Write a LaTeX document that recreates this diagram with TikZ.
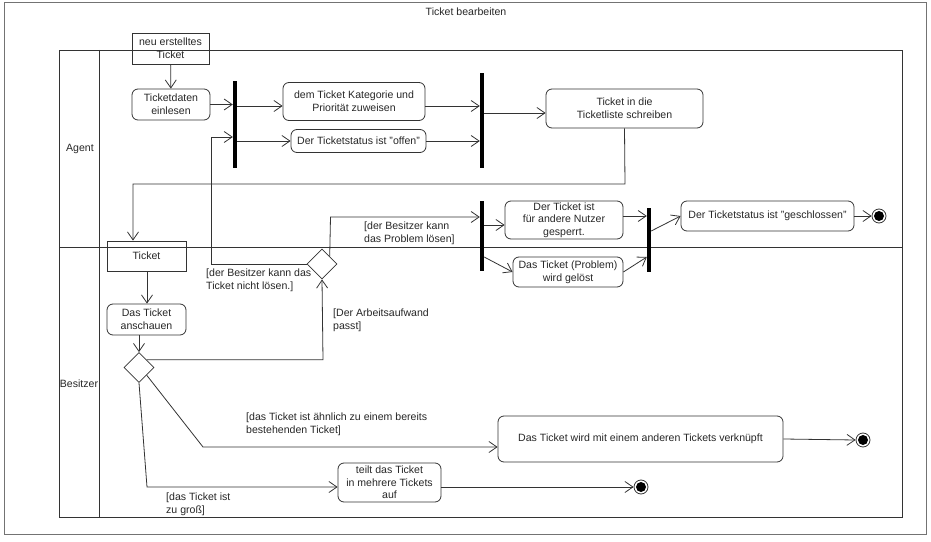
\documentclass[tikz,border=0pt]{standalone}
\usepackage{fontspec}
\setmainfont{Liberation Sans}
\usetikzlibrary{arrows.meta,shapes.geometric,calc}
\definecolor{ln}{gray}{0.2}
\definecolor{fr}{gray}{0.45}
\begin{document}
\begin{tikzpicture}[x=1bp,y=-1bp,
  every node/.style={font=\fontsize{10.6}{12.6}\selectfont, text=black!85, inner sep=1bp},
  act/.style={draw=ln, line width=0.8bp, rounded corners=6bp, align=center, minimum width=#1},
  obj/.style={draw=ln, line width=0.8bp, align=center, minimum width=#1},
  bar/.style={fill=black, draw=none, minimum width=4bp, inner sep=0, minimum height=#1},
  dec/.style={draw=ln, line width=0.8bp, diamond, minimum width=30bp, minimum height=30bp, inner sep=0, aspect=1},
  fin/.style={circle, draw=ln, line width=0.8bp, minimum size=14bp, inner sep=0, path picture={\fill[black] (path picture bounding box.center) circle (5bp);}},
  flow/.style={draw=ln, line width=0.8bp, -{Straight Barb[length=8bp,width=11bp,line width=0.8bp]}},
  guard/.style={anchor=west, align=left}
]
\useasboundingbox (0,0) rectangle (931,542);
% frames
\draw[fr, line width=0.9bp] (4,2) rectangle (926,534);
\node (title) at (466,12) {Ticket bearbeiten};
\draw[ln, line width=0.8bp] (59,50) rectangle (902,517);
\draw[ln, line width=0.8bp] (99,50) -- (99,517);
\draw[ln, line width=1.6bp] (59,247.5) -- (902,247.5);
\node (agent) at (80,149) {Agent};
\node (besitzer) at (79,384) {Besitzer};

% nodes
\node[obj=77bp, minimum height=31bp] (neu) at (170.5,48.5) {neu erstelltes\\Ticket};
\node[act=78bp, minimum height=31bp] (einlesen) at (171,104.5) {Ticketdaten\\einlesen};
\node[bar=87bp] (bar1) at (235,124.5) {};
\node[act=142bp, minimum height=38bp] (kat) at (354,101.5) {dem Ticket Kategorie und\\Priorität zuweisen};
\node[act=135bp, minimum height=23bp] (offen) at (358.5,141) {Der Ticketstatus ist "offen"};
\node[bar=95bp] (bar2) at (482,120.5) {};
\node[act=157bp, minimum height=39bp] (liste) at (624.5,108.5) {Ticket in die\\Ticketliste schreiben};
\node[obj=79bp, minimum height=30bp] (tobj) at (146.5,256) {Ticket};
\node[act=79bp, minimum height=31bp] (anschauen) at (146.5,319.5) {Das Ticket\\anschauen};
\node[dec] (d1) at (139,367.5) {};
\node[dec] (d2) at (322,264) {};
\node[bar=70bp] (bar3) at (482,236) {};
\node[act=118bp, minimum height=38bp] (gesperrt) at (564,220) {Der Ticket ist\\für andere Nutzer\\gesperrt.};
\node[act=110bp, minimum height=30bp] (geloest) at (568,272) {Das Ticket (Problem)\\wird gelöst};
\node[bar=64bp] (bar4) at (649,240) {};
\node[act=173bp, minimum height=30bp] (geschl) at (767.5,216) {Der Ticketstatus ist "geschlossen"};
\node[fin] (f1) at (879,216) {};
\node[act=285bp, minimum height=46bp] (verkn) at (640.5,439) {Das Ticket wird mit einem anderen Tickets verknüpft};
\node[fin] (f2) at (863,440) {};
\node[act=103bp, minimum height=39bp] (teilt) at (389.5,482.5) {teilt das Ticket\\in mehrere Tickets\\auf};
\node[fin] (f3) at (641,487) {};

% helper coordinates
\coordinate (c1) at (625,184);
\coordinate (c2) at (133,184);
\coordinate (c3) at (211,264);
\coordinate (c4) at (211,137);
\coordinate (c5) at (323,360);
\coordinate (c6) at (330.5,217);
\coordinate (c7) at (203,447);
\coordinate (c8) at (147,487);

% flows
\path[flow] (neu) -- (einlesen);
\path[flow] (einlesen.east) -- (einlesen.east -| bar1.west);
\path[flow] (bar1.east |- 0,106) -- (kat.west |- 0,106);
\path[flow] (bar1.east |- offen.west) -- (offen.west);
\path[flow] (kat.east |- 0,106) -- (bar2.west |- 0,106);
\path[flow] (offen.east) -- (bar2.west |- offen.east);
\path[flow] (bar2.east |- 0,113) -- (liste.west |- 0,113);
\path[flow] (liste.south) -- (c1) -- (c2) -- (c2 |- tobj.north);
\path[flow] (tobj.south -| 147,0) -- (anschauen.north -| 147,0);
\path[flow] (anschauen.south -| d1.north) -- (d1.north);
\path[flow] (d1.north east) -- (d1.north east -| c5) -- (d2.south);
\path[flow] (d2.west) -- (c3) -- (c4) -- (bar1.west |- c4);
\path[flow] (d2.north east) -- (c6) -- (bar3.west |- c6);
\path[flow] (bar3.east |- 0,225) -- (gesperrt.west |- 0,225);
\path[flow] (bar3.east |- 0,257) -- (geloest.west);
\path[flow] (gesperrt.east |- 0,216) -- (bar4.west |- 0,216);
\path[flow] (geloest.east) -- (bar4.west |- 0,257);
\path[flow] (bar4.east |- 0,231) -- (geschl.west);
\path[flow] (geschl.east) -- (f1.west);
\path[flow] (d1.south east) -- (c7) -- (verkn.west |- c7);
\path[flow] (verkn.east) -- (f2.west);
\path[flow] (d1.south) -- (c8) -- (teilt.west |- c8);
\path[flow] (teilt.east |- c8) -- (f3.west);

% guards
\node[guard] (g1) at (363,233) {[der Besitzer kann\\das Problem lösen]};
\node[guard] (g2) at (205,280.5) {[der Besitzer kann das\\Ticket nicht lösen.]};
\node[guard] (g3) at (332,320.5) {[Der Arbeitsaufwand\\passt]};
\node[guard] (g4) at (245,424) {[das Ticket ist ähnlich zu einem bereits\\bestehenden Ticket]};
\node[guard] (g5) at (165,504.5) {[das Ticket ist\\zu groß]};
\end{tikzpicture}
\end{document}
